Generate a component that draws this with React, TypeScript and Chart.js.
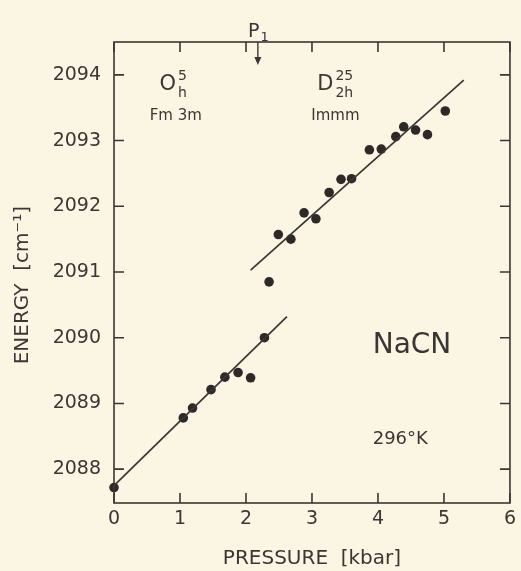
import React, { useEffect, useRef } from "react";
import { Chart, registerables } from "chart.js";

Chart.register(...registerables);

// ---- data ----
const PHASE1_PRESSURE = [0, 1.05, 1.19, 1.47, 1.68, 1.88, 2.07, 2.28];
const PHASE1_ENERGY = [2087.72, 2088.78, 2088.93, 2089.21, 2089.4, 2089.47, 2089.39, 2090.0];

const PHASE2_PRESSURE = [2.35, 2.49, 2.68, 2.88, 3.06, 3.26, 3.44, 3.6, 3.87, 4.05, 4.27, 4.39, 4.57, 4.75, 5.02];
const PHASE2_ENERGY = [2090.85, 2091.57, 2091.5, 2091.9, 2091.81, 2092.21, 2092.41, 2092.42, 2092.86, 2092.87, 2093.06, 2093.21, 2093.16, 2093.09, 2093.45];

const FIT1_PRESSURE = [0, 2.62];
const FIT1_ENERGY = [2087.75, 2090.32];
const FIT2_PRESSURE = [2.07, 5.3];
const FIT2_ENERGY = [2091.03, 2093.92];

const X_TICKS = [0, 1, 2, 3, 4, 5, 6];
const Y_TICKS = [2088, 2089, 2090, 2091, 2092, 2093, 2094];
const X_MIN = 0;
const X_MAX = 6;
const Y_MIN = 2087.485;
const Y_MAX = 2094.5;
const P1_PRESSURE = 2.18;

const X_TITLE = "PRESSURE  [kbar]";
const Y_TITLE = "ENERGY  [cm\u207B\u00B9]";

// ---- style ----
const BG = "#fbf5e3";
const INK = "#3b3633";
const FONT = "'DejaVu Sans', sans-serif";

const pts = (xs: number[], ys: number[]) => xs.map((x, i) => ({ x, y: ys[i] }));

const decorPlugin = {
  id: "decor",
  beforeDraw(chart: any) {
    const { ctx, width, height } = chart;
    ctx.save();
    ctx.fillStyle = BG;
    ctx.fillRect(0, 0, width, height);
    ctx.restore();
  },
  afterDraw(chart: any) {
    const { ctx, chartArea: a, scales } = chart;
    const xs = scales.x;
    const ys = scales.y;
    const X = (v: number) => xs.getPixelForValue(v);
    const Y = (v: number) => ys.getPixelForValue(v);
    ctx.save();
    ctx.strokeStyle = INK;
    ctx.fillStyle = INK;
    ctx.lineWidth = 1.6;
    ctx.strokeRect(a.left, a.top, a.right - a.left, a.bottom - a.top);
    const TL = 10;
    ctx.beginPath();
    xs.ticks.forEach((t: any) => {
      const px = X(t.value);
      ctx.moveTo(px, a.bottom);
      ctx.lineTo(px, a.bottom - TL);
      ctx.moveTo(px, a.top);
      ctx.lineTo(px, a.top + TL);
    });
    ys.ticks.forEach((t: any) => {
      const py = Y(t.value);
      ctx.moveTo(a.left, py);
      ctx.lineTo(a.left + TL, py);
      ctx.moveTo(a.right, py);
      ctx.lineTo(a.right - TL, py);
    });
    ctx.stroke();

    // P1 arrow
    const ax = X(P1_PRESSURE);
    const ayEnd = Y(2094.15);
    ctx.lineWidth = 1.4;
    ctx.beginPath();
    ctx.moveTo(ax, a.top);
    ctx.lineTo(ax, ayEnd - 6);
    ctx.stroke();
    ctx.beginPath();
    ctx.moveTo(ax - 3.5, ayEnd - 8);
    ctx.lineTo(ax + 3.5, ayEnd - 8);
    ctx.lineTo(ax, ayEnd);
    ctx.closePath();
    ctx.fill();

    ctx.textAlign = "left";
    ctx.textBaseline = "alphabetic";
    const txt = (s: string, x: number, y: number, size: number) => {
      ctx.font = `${size}px ${FONT}`;
      ctx.fillText(s, x, y);
      return ctx.measureText(s).width;
    };

    // P1 label
    {
      const x0 = X(2.03);
      const y0 = Y(2094.58);
      const w = txt("P", x0, y0, 19);
      txt("1", x0 + w + 1, y0 + 4, 13);
    }
    // O_h^5
    {
      const x0 = X(0.69);
      const y0 = Y(2093.77);
      const w = txt("O", x0, y0, 21);
      txt("5", x0 + w + 2, y0 - 10, 14);
      txt("h", x0 + w + 2, y0 + 7, 14);
      txt("Fm 3m", X(0.54), Y(2093.32), 15);
    }
    // D_2h^25
    {
      const x0 = X(3.08);
      const y0 = Y(2093.77);
      const w = txt("D", x0, y0, 21);
      txt("25", x0 + w + 2, y0 - 10, 14);
      txt("2h", x0 + w + 2, y0 + 7, 14);
      txt("Immm", X(2.99), Y(2093.32), 15);
    }
    txt("NaCN", X(3.92), Y(2089.76), 28);
    txt("296°K", X(3.92), Y(2088.39), 18);

    // Y title
    ctx.save();
    ctx.translate(28, Y(2090.8));
    ctx.rotate(-Math.PI / 2);
    ctx.textAlign = "center";
    ctx.font = `20px ${FONT}`;
    ctx.fillText(Y_TITLE, 0, 0);
    ctx.restore();

    ctx.restore();
  },
};

export default function App() {
  const ref = useRef<HTMLCanvasElement | null>(null);
  useEffect(() => {
    document.body.style.margin = "0";
    document.body.style.background = BG;
    const canvas = ref.current!;
    const chart = new Chart(canvas, {
      type: "scatter",
      data: {
        datasets: [
          {
            label: "fit 1",
            data: pts(FIT1_PRESSURE, FIT1_ENERGY),
            showLine: true,
            borderColor: INK,
            borderWidth: 1.7,
            pointRadius: 0,
            clip: false,
          },
          {
            label: "fit 2",
            data: pts(FIT2_PRESSURE, FIT2_ENERGY),
            showLine: true,
            borderColor: INK,
            borderWidth: 1.7,
            pointRadius: 0,
            clip: false,
          },
          {
            label: "O_h^5",
            data: pts(PHASE1_PRESSURE, PHASE1_ENERGY),
            pointRadius: 4.8,
            pointBackgroundColor: "#2d2926",
            pointBorderWidth: 0,
            borderColor: "#2d2926",
            clip: false,
          },
          {
            label: "D_2h^25",
            data: pts(PHASE2_PRESSURE, PHASE2_ENERGY),
            pointRadius: 4.8,
            pointBackgroundColor: "#2d2926",
            pointBorderWidth: 0,
            borderColor: "#2d2926",
            clip: false,
          },
        ],
      },
      options: {
        animation: false,
        responsive: false,
        devicePixelRatio: 1,
        layout: { padding: { top: 42, right: 8, left: 0, bottom: 0 } },
        plugins: {
          legend: { display: false },
          tooltip: { enabled: false },
        },
        scales: {
          x: {
            type: "linear",
            min: X_MIN,
            max: X_MAX,
            grid: { display: false, drawTicks: false },
            border: { display: false },
            afterBuildTicks: (s: any) => {
              s.ticks = X_TICKS.map((v) => ({ value: v }));
            },
            afterFit: (s: any) => {
              s.height = 68;
            },
            ticks: {
              padding: 5,
              color: INK,
              font: { family: FONT, size: 19 },
              maxRotation: 0,
              callback: (v: any) => String(v),
            },
            title: {
              display: true,
              text: X_TITLE,
              color: INK,
              font: { family: FONT, size: 20 },
              padding: { top: 0, bottom: 0 },
            },
          },
          y: {
            type: "linear",
            min: Y_MIN,
            max: Y_MAX,
            grid: { display: false, drawTicks: false },
            border: { display: false },
            afterBuildTicks: (s: any) => {
              s.ticks = Y_TICKS.map((v) => ({ value: v }));
            },
            afterFit: (s: any) => {
              s.width = 114;
            },
            ticks: {
              padding: 13,
              color: INK,
              font: { family: FONT, size: 19 },
              callback: (v: any) => String(v),
            },
          },
        },
      },
      plugins: [decorPlugin],
    } as any);
    return () => chart.destroy();
  }, []);
  return <canvas ref={ref} width={521} height={571} style={{ display: "block" }} />;
}
